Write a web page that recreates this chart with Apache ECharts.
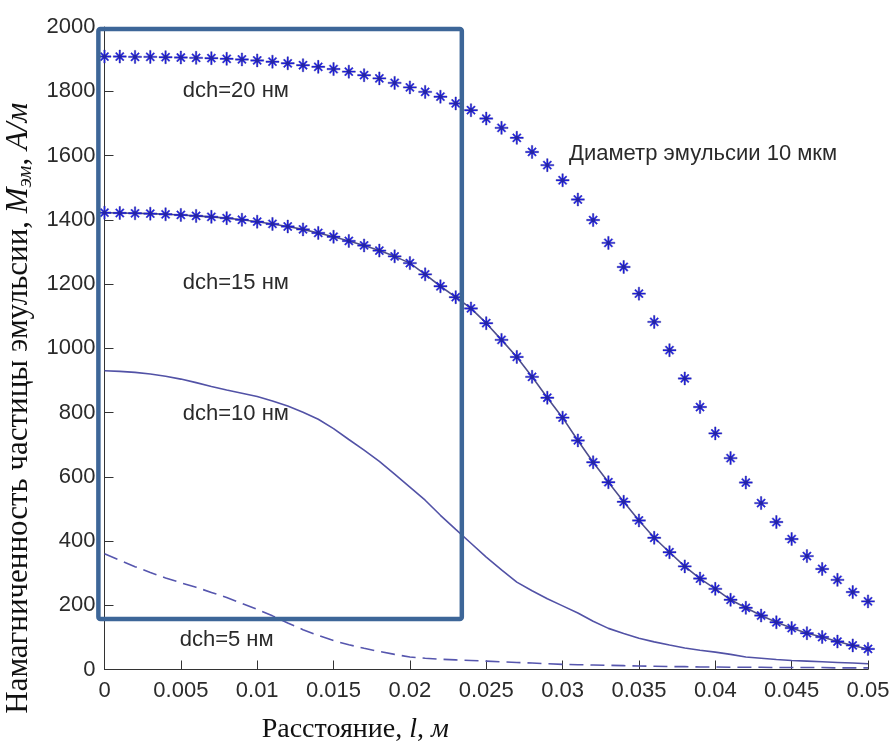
<!DOCTYPE html>
<html>
<head>
<meta charset="utf-8">
<script src="https://cdn.jsdelivr.net/npm/echarts@6/dist/echarts.min.js"></script>
<style>
html,body{margin:0;padding:0;background:#fff;}
#c{width:894px;height:744px;}
</style>
</head>
<body>
<div id="c"></div>
<script>
// Distance, m
const xs = [0,0.001,0.002,0.003,0.004,0.005,0.006,0.007,0.008,0.009,
  0.010,0.011,0.012,0.013,0.014,0.015,0.016,0.017,0.018,0.019,
  0.020,0.021,0.022,0.023,0.024,0.025,0.026,0.027,0.028,0.029,
  0.030,0.031,0.032,0.033,0.034,0.035,0.036,0.037,0.038,0.039,
  0.040,0.041,0.042,0.043,0.044,0.045,0.046,0.047,0.048,0.049,0.050];

// dch = 20 nm (markers only)
const m20 = [1908,1908,1907,1907,1906,1905,1904,1903,1901,1899,
  1896,1892,1887,1881,1876,1869,1861,1850,1840,1826,
  1812,1798,1783,1762,1741,1715,1686,1655,1611,1570,
  1523,1463,1399,1328,1253,1170,1082,994,906,817,
  735,658,582,518,459,406,353,313,279,241,212];

// dch = 15 nm (line + markers)
const m15 = [1422,1421,1420,1419,1417,1415,1412,1409,1405,1400,
  1394,1387,1379,1370,1359,1347,1334,1320,1304,1286,
  1265,1230,1193,1159,1124,1078,1026,973,911,846,
  784,713,645,583,522,464,410,365,321,283,
  251,217,192,168,147,129,113,101,87,75,64];

// dch = 10 nm (solid line)
const m10 = [930,928,925,920,913,904,893,881,870,860,
  850,836,820,801,779,750,716,683,648,608,
  568,527,480,436,393,350,310,272,245,220,
  198,176,150,128,112,97,86,76,67,60,
  54,47,39,35,31,28,26,24,22,20,18];

// dch = 5 nm (dashed line)
const m5 = [360,340,320,302,285,270,256,240,224,206,
  187,167,145,124,106,90,77,66,56,47,
  39,35,32,30,28,26,24,22,20,18,
  16,15,14,13,12,11,10,9,9,8,
  8,7,7,7,6,6,6,6,5,5,5];

const labels = [
  {text:'dch=20 нм', x:0.0086, y:1800},
  {text:'dch=15 нм', x:0.0086, y:1202},
  {text:'dch=10 нм', x:0.0086, y:797},
  {text:'dch=5 нм', x:0.0080, y:91},
  {text:'Диаметр эмульсии 10 мкм', x:0.0392, y:1605}
];
const boxCorners = {x0:-0.0004, y0:1994, x1:0.0234, y1:157};

const starPath = 'path://M4.45 0L5.55 0L5.55 10L4.45 10ZM0 4.45L10 4.45L10 5.55L0 5.55Z' +
  'M2.39 1.61L8.39 7.61L7.61 8.39L1.61 2.39Z' +
  'M7.61 1.61L8.39 2.39L2.39 8.39L1.61 7.61Z' +
  'M3.4 5L5 3.4L6.6 5L5 6.6Z';

function pairs(arr){ return xs.map((x,i)=>[x, arr[i]]); }

const chart = echarts.init(document.getElementById('c'), null, {renderer:'canvas'});
const tickFont = {fontFamily:'Liberation Sans', fontSize:22, color:'#2b2b2b'};
const option = {
  backgroundColor:'#ffffff',
  animation:false,
  grid:{left:104.5, right:26, top:27, bottom:74.5, containLabel:false, outerBoundsMode:'none'},
  xAxis:{
    type:'value', min:0, max:0.05, interval:0.005,
    axisLine:{show:true, lineStyle:{color:'#333', width:1}},
    axisTick:{show:true, inside:true, length:9, lineStyle:{color:'#333'}},
    axisLabel:Object.assign({margin:10, formatter:v=>String(+v.toFixed(3))}, tickFont),
    splitLine:{show:false},
    name:'{n|Расстояние, }{i|l}{n|, }{i|м}',
    nameLocation:'middle', nameGap:46,
    nameTextStyle:{
      padding:[0,262,0,0],
      rich:{
        n:{fontFamily:'Liberation Serif', fontSize:28, color:'#111'},
        i:{fontFamily:'Liberation Serif', fontSize:28, fontStyle:'italic', color:'#111'}
      }
    }
  },
  yAxis:{
    type:'value', min:0, max:2000, interval:200,
    axisLine:{show:true, lineStyle:{color:'#333', width:1}},
    axisTick:{show:true, inside:true, length:9, lineStyle:{color:'#333'}},
    axisLabel:Object.assign({margin:9, formatter:v=>String(v)}, tickFont),
    splitLine:{show:false},
    name:'{n|Намагниченность частицы эмульсии, }{i|M}{s|эм}{n|, }{i|A/м}',
    nameLocation:'middle', nameGap:65, nameRotate:90,
    nameTextStyle:{
      padding:[0,120,0,0],
      rich:{
        n:{fontFamily:'Liberation Serif', fontSize:31, color:'#111'},
        i:{fontFamily:'Liberation Serif', fontSize:31, fontStyle:'italic', color:'#111'},
        s:{fontFamily:'Liberation Serif', fontSize:21, fontStyle:'italic', color:'#111', padding:[12,0,0,0]}
      }
    }
  },
  series:[
    {
      name:'dch=5', type:'line', data:pairs(m5), showSymbol:false, symbol:'none',
      lineStyle:{color:'#5656ae', width:1.6, type:[14,7]}, z:2
    },
    {
      name:'dch=10', type:'line', data:pairs(m10), showSymbol:false, symbol:'none',
      lineStyle:{color:'#5252a6', width:1.6}, z:2
    },
    {
      name:'dch=15', type:'line', data:pairs(m15), symbol:starPath, symbolSize:13,
      lineStyle:{color:'#4e4e8e', width:1.6},
      itemStyle:{color:'#1a1af2', borderColor:'#2a2a86', borderWidth:0.4}, z:3
    },
    {
      name:'dch=20', type:'line', data:pairs(m20), symbol:starPath, symbolSize:13,
      lineStyle:{width:0, opacity:0},
      itemStyle:{color:'#1a1af2', borderColor:'#2a2a86', borderWidth:0.4}, z:3
    }
  ]
};
chart.setOption(option);

const p0 = chart.convertToPixel({gridIndex:0}, [boxCorners.x0, boxCorners.y0]);
const p1 = chart.convertToPixel({gridIndex:0}, [boxCorners.x1, boxCorners.y1]);
const graphics = labels.map(l => {
  const p = chart.convertToPixel({gridIndex:0}, [l.x, l.y]);
  return {type:'text', x:p[0], y:p[1], z:50,
    style:{text:l.text, fontFamily:'Liberation Sans', fontSize:22, fill:'#2a2a2a',
      textAlign:'center', textVerticalAlign:'middle'}};
});
graphics.push({
  type:'rect', z:100,
  shape:{x:p0[0], y:p0[1], width:p1[0]-p0[0], height:p1[1]-p0[1], r:2},
  style:{fill:'none', stroke:'#3d6698', lineWidth:4.5}
});
chart.setOption({graphic:graphics});
</script>
</body>
</html>
